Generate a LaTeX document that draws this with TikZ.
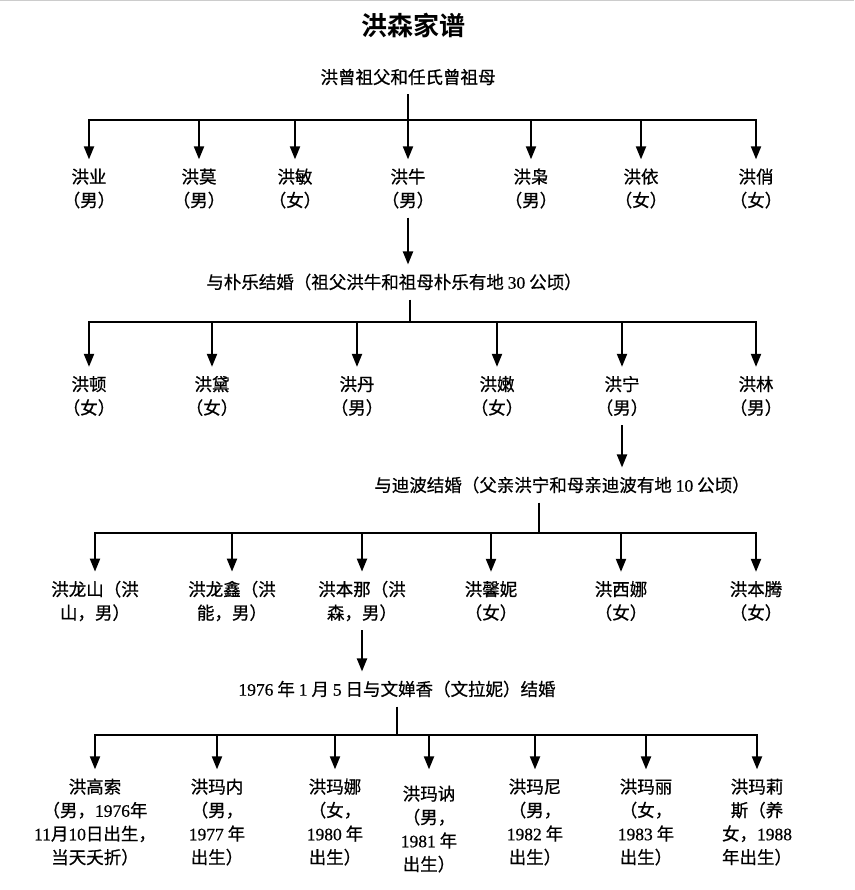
\documentclass[tikz,border=0pt]{standalone}
\usepackage{fontspec}
\setmainfont{Liberation Serif}[FakeBold=0.6]
\newfontfamily\cjk{Noto Sans CJK SC}[FakeBold=0.7]
\newfontfamily\cjktitle{Noto Sans CJK SC Bold}
\usetikzlibrary{arrows.meta}

\begin{document}
\begin{tikzpicture}[x=1pt, y=-1pt,
    person/.style={align=center, inner xsep=0pt, inner ysep=9pt, font=\cjk\fontsize{17.5}{23.5}\selectfont},
    union/.style={person},
    heading/.style={font=\cjktitle\fontsize{26}{30}\selectfont},
    arrow/.style={-{Triangle[length=13pt, width=10pt]}, line width=2pt},
    bar/.style={line width=2.4pt, line cap=rect},
    stem/.style={line width=1.4pt}
]
\useasboundingbox (0,0) rectangle (854,890);
\draw[gray!40, line width=1pt] (0,1) -- (854,1);

% Title
\node[heading] (title) at (413,25) {洪森家谱};

% Great-grandparents and their children
\node[union] (p0) at (408,77) {洪曾祖父和任氏曾祖母};
\coordinate (b0) at (408,120);

\node[person] (c11) at (89,188.5)  {洪业\\（男）};
\node[person] (c12) at (199,188.5) {洪莫\\（男）};
\node[person] (c13) at (295,188.5) {洪敏\\（女）};
\node[person] (c14) at (408,188.5) {洪牛\\（男）};
\node[person] (c15) at (531,188.5) {洪枭\\（男）};
\node[person] (c16) at (641,188.5) {洪依\\（女）};
\node[person] (c17) at (756,188.5) {洪俏\\（女）};

\draw[stem] (p0.south) -- (b0);
\draw[bar] (c11 |- b0) -- (c17 |- b0);
\foreach \n in {c11,c12,c13,c14,c15,c16,c17}
    \draw[arrow] (\n |- b0) -- (\n.north);

% Grandparents and their children
\node[union] (m1) at (394,282) {与朴乐结婚（祖父洪牛和祖母朴乐有地 {\rmfamily 30} 公顷）};
\coordinate (b1) at (410,322);
\draw[arrow] (c14.south) -- (c14.south |- m1.north);

\node[person] (c21) at (89,396)  {洪顿\\（女）};
\node[person] (c22) at (212,396) {洪黛\\（女）};
\node[person] (c23) at (357,396) {洪丹\\（男）};
\node[person] (c24) at (497,396) {洪嫩\\（女）};
\node[person] (c25) at (622,396) {洪宁\\（男）};
\node[person] (c26) at (756,396) {洪林\\（男）};

\draw[stem] (b1 |- m1.south) -- (b1);
\draw[bar] (c21 |- b1) -- (c26 |- b1);
\foreach \n in {c21,c22,c23,c24,c25,c26}
    \draw[arrow] (\n |- b1) -- (\n.north);

% Parents and their children
\node[union] (m2) at (562,485) {与迪波结婚（父亲洪宁和母亲迪波有地 {\rmfamily 10} 公顷）};
\coordinate (b2) at (539,533);
\draw[arrow] (c25.south) -- (c25.south |- m2.north);

\node[person] (c31) at (95,601)  {洪龙山（洪\\山，男）};
\node[person] (c32) at (232,601) {洪龙鑫（洪\\能，男）};
\node[person] (c33) at (362,601) {洪本那（洪\\森，男）};
\node[person] (c34) at (491,601) {洪馨妮\\（女）};
\node[person] (c35) at (621,601) {洪西娜\\（女）};
\node[person] (c36) at (756,601) {洪本腾\\（女）};

\draw[stem] (b2 |- m2.south) -- (b2);
\draw[bar] (c31 |- b2) -- (c36 |- b2);
\foreach \n in {c31,c32,c33,c34,c35,c36}
    \draw[arrow] (\n |- b2) -- (\n.north);

% Hun Sen's marriage and children
\node[union] (m3) at (397,689) {{\rmfamily 1976} 年 {\rmfamily 1} 月 {\rmfamily 5} 日与文婵香（文拉妮）结婚};
\coordinate (b3) at (397,735);
\draw[arrow] (c33.south) -- (c33.south |- m3.north);

\node[person] (c41) at (95,822)  {洪高索\\（男，{\rmfamily 1976}年\\{\rmfamily 11}月{\rmfamily 10}日出生，\\当天夭折）};
\node[person] (c42) at (217,822) {洪玛内\\（男，\\{\rmfamily 1977} 年\\出生）};
\node[person] (c43) at (335,822) {洪玛娜\\（女，\\{\rmfamily 1980} 年\\出生）};
\node[person] (c44) at (429,829) {洪玛讷\\（男，\\{\rmfamily 1981} 年\\出生）};
\node[person] (c45) at (535,822) {洪玛尼\\（男，\\{\rmfamily 1982} 年\\出生）};
\node[person] (c46) at (646,822) {洪玛丽\\（女，\\{\rmfamily 1983} 年\\出生）};
\node[person] (c47) at (757,822) {洪玛莉\\斯（养\\女，{\rmfamily 1988}\\年出生）};

\draw[stem] (m3.south) -- (b3);
\draw[bar] (c41 |- b3) -- (c47 |- b3);
\foreach \n in {c41,c42,c43,c45,c46,c47}
    \draw[arrow] (\n |- b3) -- (\n.north);
\draw[arrow, shorten >=7pt] (c44 |- b3) -- (c44.north);

\end{tikzpicture}
\end{document}
